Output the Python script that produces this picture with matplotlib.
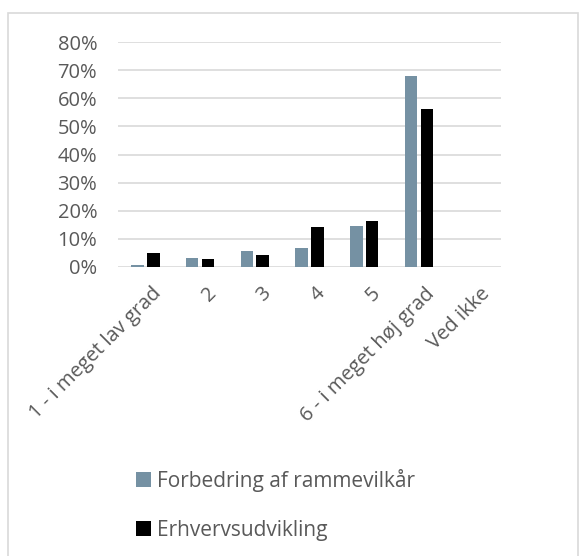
import matplotlib
matplotlib.use("Agg")
import matplotlib.pyplot as plt
import numpy as np
from matplotlib.patches import Rectangle
from matplotlib.ticker import FuncFormatter
import matplotlib.transforms as mtransforms

categories = ["1 - i meget lav grad", "2", "3", "4", "5", "6 - i meget høj grad", "Ved ikke"]
forbedring = [0.6, 3.2, 5.8, 6.6, 14.5, 67.9, 0.0]
erhverv = [4.9, 2.8, 4.1, 14.3, 16.2, 56.2, 0.0]
series_names = ["Forbedring af rammevilkår", "Erhvervsudvikling"]
yticks = [0, 10, 20, 30, 40, 50, 60, 70, 80]

plt.rcParams['font.family'] = ['Open Sans', 'DejaVu Sans']
txt = '#595959'

W, H = 585, 556
fig = plt.figure(figsize=(W/100, H/100), dpi=100)
fig.patches.append(Rectangle((8/W, -0.1), (578-8)/W, 1.1 - 13/H, transform=fig.transFigure,
                             fill=False, edgecolor='#d9d9d9', linewidth=1.2))

ax = fig.add_axes([118/W, 1-267/H, (501-118)/W, (267-42)/H])
x = np.arange(len(categories))
bw = 0.23
ax.bar(x - 0.145, forbedring, bw, color='#7591a3', label=series_names[0], zorder=3)
ax.bar(x + 0.145, erhverv, bw, color='#000000', label=series_names[1], zorder=3)
ax.set_xlim(-0.5, len(categories) - 0.5)
ax.set_ylim(0, 80)
ax.set_yticks(yticks)
ax.yaxis.set_major_formatter(FuncFormatter(lambda v, p: f"{int(v)}%"))
ax.grid(axis='y', color='#d9d9d9', linewidth=1.2, zorder=0)
for s in ax.spines.values():
    s.set_visible(False)
ax.tick_params(axis='both', length=0, labelsize=14.5, labelcolor=txt)
ax.tick_params(axis='y', pad=15)
ax.set_xticks(x)
ax.set_xticklabels(categories, rotation=45, ha='right', va='top', rotation_mode='anchor')
ax.tick_params(axis='x', pad=12)
offset = mtransforms.ScaledTranslation(6/100, 0, fig.dpi_scale_trans)
for lbl in ax.get_xticklabels():
    lbl.set_transform(lbl.get_transform() + offset)

handles, labels = ax.get_legend_handles_labels()
leg = fig.legend(handles, labels, loc='upper left', bbox_to_anchor=(117/W, 1-450/H),
                 frameon=False, fontsize=15, labelcolor=txt, handlelength=0.72,
                 handleheight=0.72, handletextpad=0.3, labelspacing=1.35)
fig.savefig("out.png", dpi=100)
